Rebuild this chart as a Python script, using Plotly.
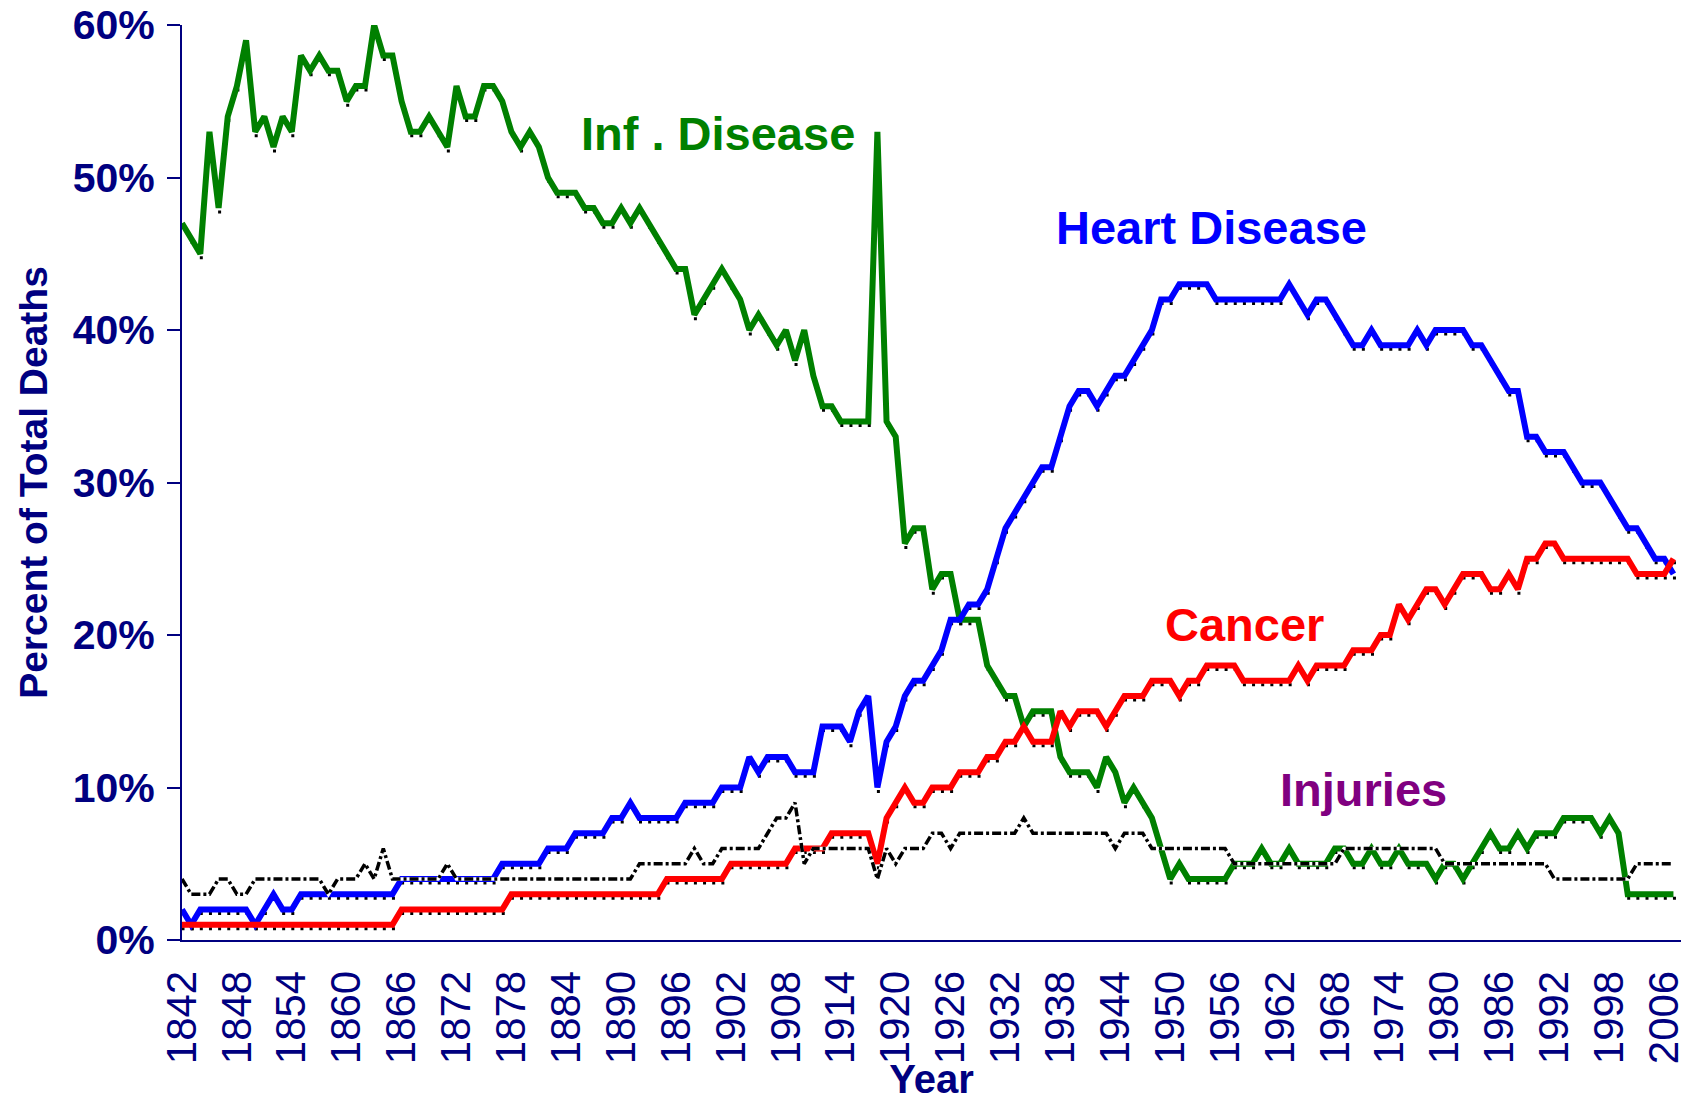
import plotly.graph_objects as go

# ---------------- data (percent of total deaths) ----------------
# category axis: one category per data row (the source skips a few years after 2002)
years = list(range(1842, 2003)) + [2004, 2006, 2007]

inf_disease = [
    47, 46, 45, 53, 48, 54, 56, 59, 53, 54,
    52, 54, 53, 58, 57, 58, 57, 57, 55, 56,
    56, 60, 58, 58, 55, 53, 53, 54, 53, 52,
    56, 54, 54, 56, 56, 55, 53, 52, 53, 52,
    50, 49, 49, 49, 48, 48, 47, 47, 48, 47,
    48, 47, 46, 45, 44, 44, 41, 42, 43, 44,
    43, 42, 40, 41, 40, 39, 40, 38, 40, 37,
    35, 35, 34, 34, 34, 34, 53, 34, 33, 26,
    27, 27, 23, 24, 24, 21, 21, 21, 18, 17,
    16, 16, 14, 15, 15, 15, 12, 11, 11, 11,
    10, 12, 11, 9, 10, 9, 8, 6, 4, 5,
    4, 4, 4, 4, 4, 5, 5, 5, 6, 5,
    5, 6, 5, 5, 5, 5, 6, 6, 5, 5,
    6, 5, 5, 6, 5, 5, 5, 4, 5, 5,
    4, 5, 6, 7, 6, 6, 7, 6, 7, 7,
    7, 8, 8, 8, 8, 7, 8, 7, 3, 3,
    3, 3, 3, 3,
]

heart_disease = [
    2, 1, 2, 2, 2, 2, 2, 2, 1, 2,
    3, 2, 2, 3, 3, 3, 3, 3, 3, 3,
    3, 3, 3, 3, 4, 4, 4, 4, 4, 4,
    4, 4, 4, 4, 4, 5, 5, 5, 5, 5,
    6, 6, 6, 7, 7, 7, 7, 8, 8, 9,
    8, 8, 8, 8, 8, 9, 9, 9, 9, 10,
    10, 10, 12, 11, 12, 12, 12, 11, 11, 11,
    14, 14, 14, 13, 15, 16, 10, 13, 14, 16,
    17, 17, 18, 19, 21, 21, 22, 22, 23, 25,
    27, 28, 29, 30, 31, 31, 33, 35, 36, 36,
    35, 36, 37, 37, 38, 39, 40, 42, 42, 43,
    43, 43, 43, 42, 42, 42, 42, 42, 42, 42,
    42, 43, 42, 41, 42, 42, 41, 40, 39, 39,
    40, 39, 39, 39, 39, 40, 39, 40, 40, 40,
    40, 39, 39, 38, 37, 36, 36, 33, 33, 32,
    32, 32, 31, 30, 30, 30, 29, 28, 27, 27,
    26, 25, 25, 24,
]

cancer = [
    1, 1, 1, 1, 1, 1, 1, 1, 1, 1,
    1, 1, 1, 1, 1, 1, 1, 1, 1, 1,
    1, 1, 1, 1, 2, 2, 2, 2, 2, 2,
    2, 2, 2, 2, 2, 2, 3, 3, 3, 3,
    3, 3, 3, 3, 3, 3, 3, 3, 3, 3,
    3, 3, 3, 4, 4, 4, 4, 4, 4, 4,
    5, 5, 5, 5, 5, 5, 5, 6, 6, 6,
    6, 7, 7, 7, 7, 7, 5, 8, 9, 10,
    9, 9, 10, 10, 10, 11, 11, 11, 12, 12,
    13, 13, 14, 13, 13, 13, 15, 14, 15, 15,
    15, 14, 15, 16, 16, 16, 17, 17, 17, 16,
    17, 17, 18, 18, 18, 18, 17, 17, 17, 17,
    17, 17, 18, 17, 18, 18, 18, 18, 19, 19,
    19, 20, 20, 22, 21, 22, 23, 23, 22, 23,
    24, 24, 24, 23, 23, 24, 23, 25, 25, 26,
    26, 25, 25, 25, 25, 25, 25, 25, 25, 24,
    24, 24, 24, 25,
]

injuries = [
    4, 3, 3, 3, 4, 4, 3, 3, 4, 4,
    4, 4, 4, 4, 4, 4, 3, 4, 4, 4,
    5, 4, 6, 4, 4, 4, 4, 4, 4, 5,
    4, 4, 4, 4, 4, 4, 4, 4, 4, 4,
    4, 4, 4, 4, 4, 4, 4, 4, 4, 4,
    5, 5, 5, 5, 5, 5, 6, 5, 5, 6,
    6, 6, 6, 6, 7, 8, 8, 9, 5, 6,
    6, 6, 6, 6, 6, 6, 4, 6, 5, 6,
    6, 6, 7, 7, 6, 7, 7, 7, 7, 7,
    7, 7, 8, 7, 7, 7, 7, 7, 7, 7,
    7, 7, 6, 7, 7, 7, 6, 6, 6, 6,
    6, 6, 6, 6, 6, 5, 5, 5, 5, 5,
    5, 5, 5, 5, 5, 5, 5, 6, 6, 6,
    6, 6, 6, 6, 6, 6, 6, 6, 5, 5,
    5, 5, 5, 5, 5, 5, 5, 5, 5, 5,
    4, 4, 4, 4, 4, 4, 4, 4, 4, 5,
    5, 5, 5, 5,
]

categories = [str(y) for y in years]
tick_every = 6
tick_cats = categories[::tick_every]          # 1842, 1848, ..., 1998, 2006
pct_ticks = [0, 10, 20, 30, 40, 50, 60]
pct_labels = [f"{v}%" for v in pct_ticks]

# ---------------- styling ----------------
NAVY = "#000080"
FONT = "Liberation Sans, Arial, sans-serif"
W, H = 1681, 1101
ML, MR, MT, MB = 182, 0, 25, 161
PX_PER_CAT = 9.15
X0 = 0
X1 = (W - ML - MR) / PX_PER_CAT
Y0, Y1 = 0, 60
ppy = (H - MT - MB) / (Y1 - Y0)
SH_DX, SH_DY = 1.0, 4.0           # offset of the small black point markers (px)

colored = [
    ("Inf. Disease", inf_disease, "#008000"),
    ("Heart Disease", heart_disease, "#0000FF"),
    ("Cancer", cancer, "#FF0000"),
]

fig = go.Figure()

# small black point markers peeking out under the coloured lines (base axes, shifted)
for name, vals, col in colored:
    fig.add_trace(go.Scatter(
        x=categories, y=vals, mode="markers", xaxis="x", yaxis="y",
        marker=dict(symbol="square", size=3, color="black", line=dict(width=0)),
        hoverinfo="skip", showlegend=False))

# coloured lines on the visible axes
for name, vals, col in colored:
    fig.add_trace(go.Scatter(
        x=categories, y=vals, mode="lines", name=name, xaxis="x2", yaxis="y2",
        line=dict(color=col, width=6), showlegend=False))

# injuries: black dash-dot with white gaps
fig.add_trace(go.Scatter(
    x=categories, y=injuries, mode="lines", xaxis="x2", yaxis="y2",
    line=dict(color="white", width=3.5), hoverinfo="skip", showlegend=False))
fig.add_trace(go.Scatter(
    x=categories, y=injuries, mode="lines", name="Injuries", xaxis="x2", yaxis="y2",
    line=dict(color="black", width=3.5, dash="9px,3px,3px,3px"), showlegend=False))

labels = [
    ("Inf . Disease", 43.4, 52.9, "#008000"),
    ("Heart Disease", 95.3, 46.75, "#0000FF"),
    ("Cancer", 107.2, 20.68, "#FF0000"),
    ("Injuries", 119.8, 9.85, "#800080"),
]
annotations = [
    dict(text=t, x=x, y=y, xref="x2", yref="y2", xanchor="left", yanchor="middle",
         showarrow=False, font=dict(family=FONT, size=47, color=c, weight="bold"))
    for t, x, y, c in labels
]

fig.update_layout(
    width=W, height=H,
    margin=dict(l=ML, r=MR, t=MT, b=MB, autoexpand=False),
    paper_bgcolor="white", plot_bgcolor="white",
    showlegend=False,
    annotations=annotations,
    xaxis=dict(type="category", categoryorder="array", categoryarray=categories,
               range=[X0 - SH_DX / PX_PER_CAT, X1 - SH_DX / PX_PER_CAT],
               visible=False, fixedrange=True, automargin=False),
    yaxis=dict(range=[Y0 + SH_DY / ppy, Y1 + SH_DY / ppy], visible=False,
               fixedrange=True, automargin=False),
    xaxis2=dict(
        overlaying="x", anchor="y2", side="bottom", automargin=False,
        type="category", categoryorder="array", categoryarray=categories,
        range=[X0, X1], tickmode="array", tickvals=tick_cats, ticktext=tick_cats,
        tickangle=-90, ticks="", showgrid=False, zeroline=False,
        showline=True, linecolor=NAVY, linewidth=2,
        tickfont=dict(family=FONT, size=42, color=NAVY),
        ticklabelstandoff=12, ticklabeloverflow="allow",
        title=dict(text="Year", standoff=16,
                   font=dict(family=FONT, size=40, color=NAVY, weight="bold")),
    ),
    yaxis2=dict(
        overlaying="y", anchor="x2", side="left", automargin=False,
        range=[Y0, Y1], tickmode="array", tickvals=pct_ticks, ticktext=pct_labels,
        ticks="outside", ticklen=13, tickwidth=2, tickcolor=NAVY,
        showgrid=False, zeroline=False,
        showline=True, linecolor=NAVY, linewidth=2,
        tickfont=dict(family=FONT, size=41, color=NAVY, weight="bold"),
        ticklabelstandoff=4, ticklabeloverflow="allow",
        title=dict(text="Percent of Total Deaths", standoff=13,
                   font=dict(family=FONT, size=39, color=NAVY, weight="bold")),
    ),
)

fig.write_html(
    "out.html",
    config={"displayModeBar": False, "staticPlot": True},
    post_script="document.body.style.margin='0';document.body.style.overflow='hidden';",
)
